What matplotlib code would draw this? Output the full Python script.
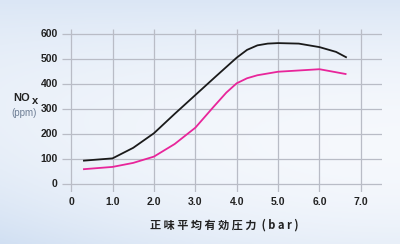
import numpy as np
import matplotlib.pyplot as plt

plt.rcParams['font.family'] = ['Noto Sans CJK JP', 'DejaVu Sans']

## Data
bmep_black = [0.31, 1.0, 1.5, 2.0, 2.5, 3.0, 3.5, 4.0, 4.25, 4.5, 4.75, 5.0, 5.5, 6.0, 6.4, 6.64]
nox_black  = [94, 103, 145, 203, 280, 355, 430, 504, 535, 553, 560, 562, 560, 546, 527, 506]

bmep_pink = [0.31, 1.0, 1.5, 2.0, 2.5, 3.0, 3.44, 3.75, 4.0, 4.25, 4.5, 5.0, 5.5, 6.0, 6.2, 6.63]
nox_pink  = [60, 69, 85, 110, 160, 225, 308, 365, 402, 422, 434, 448, 453, 458, 452, 439]

x_ticks = [0, 1, 2, 3, 4, 5, 6, 7]
x_labels = ["0", "1.0", "2.0", "3.0", "4.0", "5.0", "6.0", "7.0"]
y_ticks = [0, 100, 200, 300, 400, 500, 600]

fig = plt.figure(figsize=(4, 2.44), dpi=100)

# Soft sky background
bg = fig.add_axes([0, 0, 1, 1], zorder=-10)
yy, xx = np.mgrid[0:1:120j, 0:1:200j]
shade = 0.6 * (1 - yy) ** 3 + 0.45 * (1 - xx) ** 2 * yy + 0.35 * yy ** 4
shade = np.clip(shade, 0, 1)
top = np.array([0.78, 0.85, 0.94])
white = np.array([0.98, 0.985, 0.995])
img = white[None, None, :] * (1 - shade[..., None]) + top[None, None, :] * shade[..., None]
bg.imshow(img, extent=[0, 1, 0, 1], aspect='auto', origin='upper')
bg.axis('off')

ax = fig.add_axes([0.155, 0.213, 0.80, 0.668])
ax.patch.set_alpha(0)
ax.set_xlim(-0.22, 7.51)
ax.set_ylim(-31, 618)

grid_c = '#b9bcc6'
ax.hlines(y_ticks, -0.22, 7.51, color=grid_c, lw=0.9, zorder=1)
ax.vlines(x_ticks, -31, 618, color=grid_c, lw=0.9, zorder=1)

ax.plot(bmep_black, nox_black, color='#1a1a1a', lw=1.3, zorder=3)
ax.plot(bmep_pink, nox_pink, color='#e8259a', lw=1.3, zorder=3)

for s in ax.spines.values():
    s.set_visible(False)
ax.set_xticks([])
ax.set_yticks([])

tick_font = dict(fontsize=7.5, color='#222222', family='Liberation Sans', weight='bold')
for y in y_ticks:
    ax.text(-0.32, y, str(y), ha='right', va='center', **tick_font)
for x, lab in zip(x_ticks, x_labels):
    ax.text(x, -70, lab, ha='center', va='center', **tick_font)

fig.text(0.033, 0.60, "NO", fontsize=8, color='#222222', weight='bold',
         ha='left', va='center', family='Liberation Sans')
fig.text(0.081, 0.588, "x", fontsize=8, color='#222222', weight='bold',
         ha='left', va='center', family='Liberation Sans')
fig.text(0.06, 0.538, "(ppm)", fontsize=7, color='#6f7f96',
         ha='center', va='center', family='Liberation Sans')

fig.text(0.562, 0.078, "正 味 平 均 有 効 圧 力  ( b a r )", fontsize=8,
         color='#222222', weight='bold', ha='center', va='center')

fig.savefig("out.png", dpi=100)
